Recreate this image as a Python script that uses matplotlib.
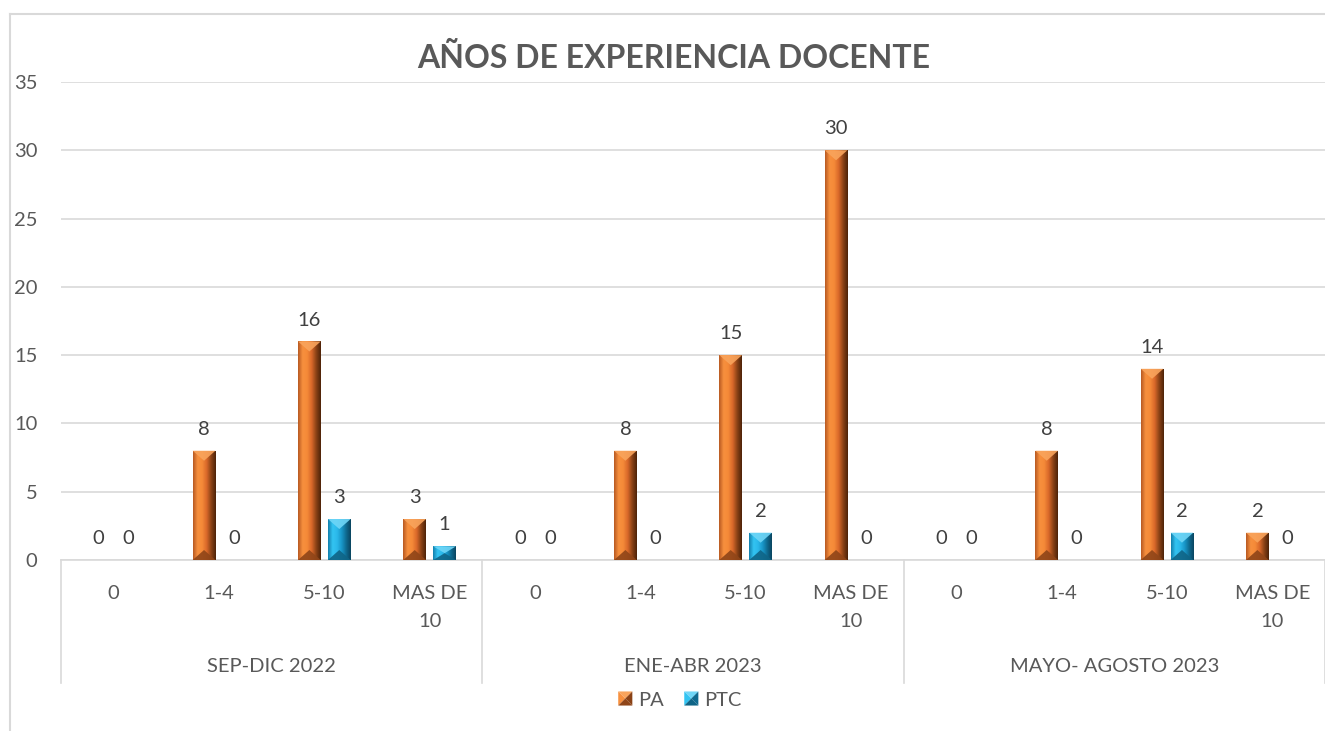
import numpy as np
import matplotlib
matplotlib.use("Agg")
import matplotlib.pyplot as plt
from matplotlib.patches import Polygon, Rectangle
from matplotlib.legend_handler import HandlerBase
import matplotlib.transforms as mtransforms

# ---------------- data ----------------
title = "AÑOS DE EXPERIENCIA DOCENTE"
periods = ["SEP-DIC 2022", "ENE-ABR 2023", "MAYO- AGOSTO 2023"]
subcats = ["0", "1-4", "5-10", "MAS DE\n10"]
series_names = ["PA", "PTC"]
pa_values = [0, 8, 16, 3, 0, 8, 15, 30, 0, 8, 14, 2]
ptc_values = [0, 0, 3, 1, 0, 0, 2, 0, 0, 0, 2, 0]
y_ticks = [0, 5, 10, 15, 20, 25, 30, 35]

# ---------------- style ----------------
W, H, DPI = 1325, 731, 100
FONT = "Lato"
TXT = "#595959"
GRID = "#d9d9d9"
FS = 14.5
plt.rcParams["font.family"] = [FONT, "DejaVu Sans"]

# gradient stops (left -> right) for each series + top / bottom facet colours
styles = {
    "PA": dict(grad=["#b85a22", "#f7903e", "#f58a38", "#d8682a", "#8a4216", "#4e2308"],
               top="#f9a45c", bot="#8f4518"),
    "PTC": dict(grad=["#1380ad", "#33c4f2", "#2bb8ea", "#1896c8", "#0f6a90", "#0a4560"],
               top="#6fd6f7", bot="#0f6486"),
}

fig = plt.figure(figsize=(W / DPI, H / DPI), dpi=DPI)
ax_left, ax_right = 61 / W, 1325 / W
ax_bottom, ax_top = 1 - 560 / H, 1 - 82 / H
ax = fig.add_axes([ax_left, ax_bottom, ax_right - ax_left, ax_top - ax_bottom])

n = len(pa_values)
x = np.arange(n)
ax.set_xlim(-0.5, n - 0.5)
ax.set_ylim(0, 35)

ax_h_px = 560 - 82
dy_px = 35 / ax_h_px
bw = 0.215
off = 0.142

def hex2rgb(h):
    h = h.lstrip("#")
    return [int(h[i:i + 2], 16) / 255 for i in (0, 2, 4)]

def draw_series(vals, xc, name):
    st = styles[name]
    cols = np.array([hex2rgb(c) for c in st["grad"]])
    pos = np.linspace(0, 1, len(cols))
    xs = np.linspace(0, 1, 64)
    grad = np.stack([np.interp(xs, pos, cols[:, k]) for k in range(3)], axis=-1)[None, :, :]
    bars = ax.bar(xc, vals, width=bw, color=st["grad"][2], zorder=3, linewidth=0)
    for b, v in zip(bars, vals):
        if v <= 0:
            continue
        x0, w = b.get_x(), b.get_width()
        x1 = x0 + w
        xm = x0 + w / 2
        im = ax.imshow(grad, extent=[x0, x1, 0, v], aspect="auto", zorder=3.1,
                       interpolation="bilinear")
        im.set_clip_path(b)
        d = min(10 * dy_px, v / 2)
        ax.add_patch(Polygon([[x0, v], [x1, v], [xm, v - d]], closed=True,
                             facecolor=st["top"], edgecolor="none", alpha=0.9, zorder=3.2))
        ax.add_patch(Polygon([[x0, 0], [x1, 0], [xm, d]], closed=True,
                             facecolor=st["bot"], edgecolor="none", alpha=0.9, zorder=3.2))
    for xi, v in zip(xc, vals):
        ax.annotate(str(v), xy=(xi, v), xytext=(0, 11.5), textcoords="offset points",
                    ha="center", va="baseline", fontsize=FS, color="#404040", zorder=5)

draw_series(pa_values, x - off, "PA")
draw_series(ptc_values, x + off, "PTC")

# grid / spines
ax.set_yticks(y_ticks)
ax.yaxis.grid(True, color=GRID, linewidth=1.2, zorder=0)
ax.set_axisbelow(True)
for s in ["top", "right", "left"]:
    ax.spines[s].set_visible(False)
ax.spines["bottom"].set_color(GRID)
ax.spines["bottom"].set_linewidth(1.2)
ax.tick_params(axis="y", length=0, pad=17, labelsize=FS, labelcolor=TXT)

# first-level category labels
ax.set_xticks(x)
ax.set_xticklabels(subcats * len(periods), fontsize=FS, color=TXT,
                   linespacing=1.78, va="top")
ax.tick_params(axis="x", length=0, pad=18)

# group separators & group labels
trans = mtransforms.blended_transform_factory(ax.transData, ax.transAxes)
sep_depth = -(683 - 560) / ax_h_px
for g in range(len(periods) + 1):
    xb = g * 4 - 0.5
    ax.plot([xb, xb], [0, sep_depth], transform=trans, color=GRID, lw=1.2,
            clip_on=False, zorder=1)
for g, p in enumerate(periods):
    ax.text(g * 4 + 1.5, -(666 - 560) / ax_h_px, p, transform=trans, ha="center",
            va="center", fontsize=FS, color=TXT)

# title
fig.text(674 / W, 1 - 58 / H, title, ha="center", va="center", fontsize=23,
         fontweight="bold", color=TXT)

# chart border (left & top)
fig.add_artist(plt.Line2D([10 / W, 10 / W], [0, 1 - 14 / H], color=GRID, lw=1.5,
                          transform=fig.transFigure))
fig.add_artist(plt.Line2D([10 / W, 1], [1 - 14 / H, 1 - 14 / H], color=GRID, lw=1.5,
                          transform=fig.transFigure))

# legend with bevelled square markers
class BevelHandler(HandlerBase):
    def __init__(self, name):
        super().__init__()
        self.name = name

    def create_artists(self, legend, orig_handle, xdescent, ydescent, width, height,
                       fontsize, trans):
        st = styles[self.name]
        s = min(width, height) * 1.0
        x0 = -xdescent + (width - s) / 2
        y0 = -ydescent + (height - s) / 2
        c = (x0 + s / 2, y0 + s / 2)
        pts = [(x0, y0), (x0 + s, y0), (x0 + s, y0 + s), (x0, y0 + s)]
        faces = [
            ([pts[3], pts[2], c], st["top"]),
            ([pts[0], pts[3], c], st["grad"][1]),
            ([pts[1], pts[2], c], st["grad"][4]),
            ([pts[0], pts[1], c], st["bot"]),
        ]
        arts = []
        for verts, col in faces:
            p = Polygon(verts, closed=True, facecolor=col, edgecolor="none", transform=trans)
            arts.append(p)
        return arts

h1 = Rectangle((0, 0), 1, 1)
h2 = Rectangle((0, 0), 1, 1)
leg = fig.legend([h1, h2], series_names, loc="center", bbox_to_anchor=(680 / W, 1 - 700 / H),
                 ncol=2, frameon=False, fontsize=FS, handlelength=0.7, handleheight=0.7,
                 handletextpad=0.3, columnspacing=1.0,
                 handler_map={h1: BevelHandler("PA"), h2: BevelHandler("PTC")})
for t in leg.get_texts():
    t.set_color(TXT)

fig.savefig("out.png", dpi=DPI)
